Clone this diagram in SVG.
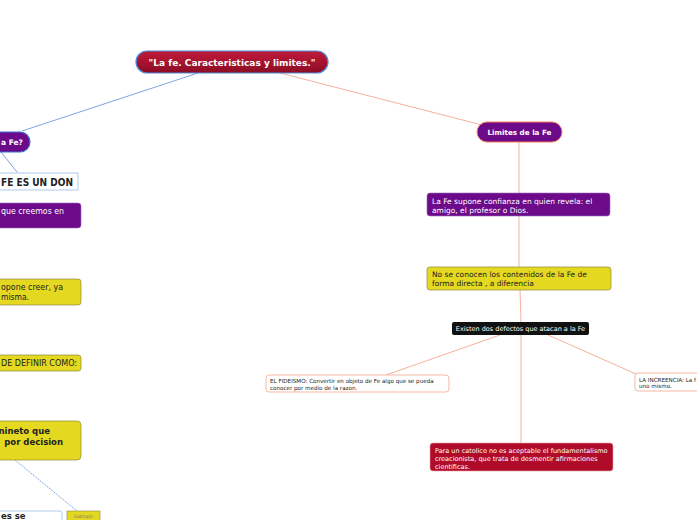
<svg xmlns="http://www.w3.org/2000/svg" width="697" height="520" viewBox="0 0 697 520">
<defs>
<linearGradient id="gRed" x1="0" y1="0" x2="0" y2="1">
<stop offset="0" stop-color="#c01a3c"/><stop offset="1" stop-color="#8c0c24"/>
</linearGradient>
<style>
text{font-family:"DejaVu Sans",Verdana,sans-serif}
.w{fill:#fff}
.k{fill:#222}
.b{font-weight:bold}
.blue{stroke:#5b8fdc;stroke-width:0.8;fill:none}
.or{stroke:#f49c80;stroke-width:0.8;fill:none}
.purple{fill:#6c0a8a}
.yellow{fill:#e4d820;stroke:#8c8a40;stroke-width:0.7}
</style>
</defs>
<rect width="697" height="520" fill="#fff"/>
<g id="connectors">
<line class="blue" x1="198" y1="73" x2="22" y2="131"/>
<line class="or" x1="280" y1="73" x2="482" y2="125"/>
<line class="blue" x1="1" y1="152" x2="17" y2="172"/>
<line class="blue" x1="15" y1="460" x2="77" y2="511" stroke-dasharray="1.5 0.8"/>
<line class="or" x1="519" y1="142" x2="519" y2="193"/>
<line class="or" x1="519" y1="216" x2="519" y2="267"/>
<line class="or" x1="520" y1="290" x2="521" y2="322"/>
<line class="or" x1="500" y1="335" x2="386" y2="375"/>
<line class="or" x1="521" y1="335" x2="521" y2="443"/>
<line class="or" x1="548" y1="335" x2="636" y2="374"/>
</g>
<g id="title">
<rect x="136" y="51" width="192" height="22" rx="11" fill="url(#gRed)" stroke="#4a90d9" stroke-width="1.2"/>
<text x="232" y="65.5" text-anchor="middle" class="w b" font-size="9">"La fe. Caracteristicas y limites."</text>
</g>
<g id="que-es-la-fe">
<rect x="-20" y="132" width="50" height="20" rx="10" class="purple" stroke="#3a6fd0" stroke-width="1.2"/>
<text x="1" y="145" class="w b" font-size="7.5">a Fe?</text>
</g>
<g id="don">
<rect x="-10" y="173" width="88" height="17" fill="#fff" stroke="#9bbbe6" stroke-width="0.8"/>
<text x="1" y="185.5" textLength="72" lengthAdjust="spacingAndGlyphs" class="k b" font-size="10.5">FE ES UN DON</text>
</g>
<g id="creemos">
<rect x="-10" y="203" width="91" height="25" rx="3" class="purple" stroke="#9a6bbb" stroke-width="0.6"/>
<text x="1" y="214" textLength="63" lengthAdjust="spacingAndGlyphs" class="w" font-size="8">que creemos en</text>
</g>
<g id="supone-creer">
<rect x="-10" y="279" width="91" height="26" rx="3" class="yellow"/>
<text x="1" y="290" textLength="62" lengthAdjust="spacingAndGlyphs" class="k" font-size="8">opone creer, ya</text>
<text x="1" y="300" textLength="28" lengthAdjust="spacingAndGlyphs" class="k" font-size="8">misma.</text>
</g>
<g id="definir">
<rect x="-10" y="355" width="91" height="16" rx="3" class="yellow"/>
<text x="1" y="366" textLength="76" lengthAdjust="spacingAndGlyphs" class="k" font-size="8">DE DEFINIR COMO:</text>
</g>
<g id="decision">
<rect x="-10" y="421" width="91" height="39" rx="4" class="yellow"/>
<text x="50" y="434" text-anchor="end" class="k b" font-size="8.5">nineto que</text>
<text x="63" y="445" text-anchor="end" class="k b" font-size="8.5">por decision</text>
</g>
<g id="subtopic">
<rect x="67" y="511" width="33" height="12" fill="#e4d820" stroke="#8c8a40" stroke-width="0.6"/>
<text x="83.5" y="518" text-anchor="middle" fill="#777" font-size="4.5">Subtopic</text>
</g>
<g id="es-se">
<rect x="-10" y="511" width="72" height="14" rx="2" fill="#fff" stroke="#9bbbe6" stroke-width="0.8"/>
<text x="1" y="519" class="k b" font-size="8.5">es se</text>
</g>
<g id="limites">
<rect x="477" y="122" width="85" height="20" rx="10" class="purple" stroke="#f08060" stroke-width="1"/>
<text x="519.5" y="135" text-anchor="middle" class="w b" font-size="7.2">Limites de la Fe</text>
</g>
<g id="confianza">
<rect x="427" y="193" width="183" height="23" rx="3" class="purple" stroke="#9a6bbb" stroke-width="0.6"/>
<text x="432" y="203.5" class="w" font-size="7.5">La Fe supone confianza en quien revela: el</text>
<text x="432" y="212.5" class="w" font-size="7.5">amigo, el profesor o Dios.</text>
</g>
<g id="contenidos">
<rect x="427" y="267" width="184" height="23" rx="3" class="yellow"/>
<text x="432" y="277" class="k" font-size="7.5">No se conocen los contenidos de la Fe de</text>
<text x="432" y="286" class="k" font-size="7.5">forma directa , a diferencia</text>
</g>
<g id="defectos">
<rect x="452" y="322" width="137" height="13" rx="2" fill="#111"/>
<text x="520.5" y="331" text-anchor="middle" class="w" font-size="6.5">Existen dos defectos que atacan a la Fe</text>
</g>
<g id="fideismo">
<rect x="266" y="375" width="183" height="17" rx="3" fill="#fff" stroke="#f4a78a" stroke-width="0.8"/>
<text x="270" y="382.5" class="k" font-size="5.6">EL FIDEISMO: Convertir en objeto de Fe algo que se pueda</text>
<text x="270" y="389.5" class="k" font-size="5.6">conocer por medio de la razon.</text>
</g>
<g id="increencia">
<rect x="635" y="373" width="70" height="18" rx="3" fill="#fff" stroke="#f4a78a" stroke-width="0.8"/>
<text x="639" y="381.5" class="k" font-size="5.6">LA INCREENCIA: La f</text>
<text x="639" y="388" class="k" font-size="5.6">uno mismo.</text>
</g>
<g id="catolico">
<rect x="430" y="443" width="183" height="28" rx="3" fill="#b00c2a" stroke="#e8a0a8" stroke-width="0.6"/>
<text x="435" y="452.5" class="w" font-size="6.5">Para un catolico no es aceptable el fundamentalismo</text>
<text x="435" y="460.5" class="w" font-size="6.5">creacionista, que trata de desmentir afirmaciones</text>
<text x="435" y="468.5" class="w" font-size="6.5">cientificas.</text>
</g>
</svg>
